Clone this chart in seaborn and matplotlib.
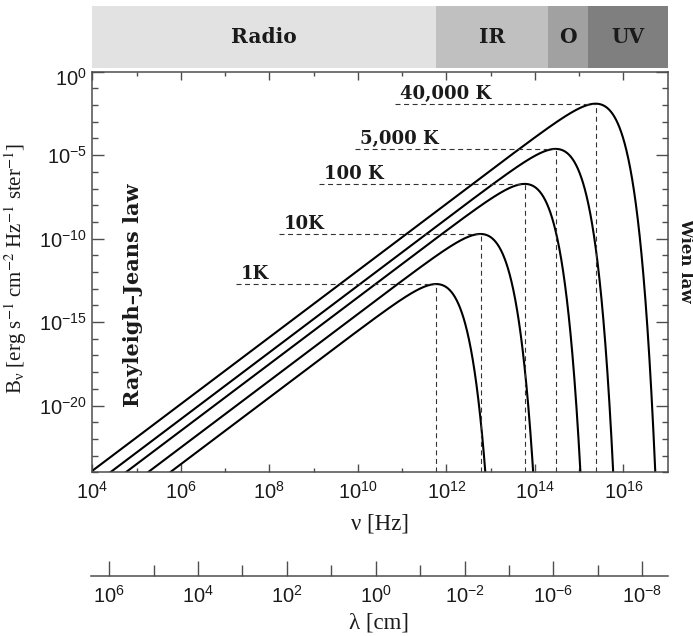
import numpy as np
import pandas as pd
import matplotlib
matplotlib.use("Agg")
import matplotlib.pyplot as plt
from matplotlib.ticker import FixedLocator, FixedFormatter, NullFormatter
from matplotlib.transforms import ScaledTranslation
import seaborn as sns

# ---- data ---------------------------------------------------------------
# blackbody temperatures of the five curves (K) and the labels printed on them
curve_temps_K = [10, 100, 1000, 5000, 40000]
curve_labels = ["1K", "10K", "100 K", "5,000 K", "40,000 K"]
# left end of the dashed guide running to each peak (log10 Hz)
guide_start_log_hz = [7.24, 8.22, 9.12, 9.94, 10.84]

# spectral bands along the top (edges in log10 Hz)
band_names = ["Radio", "IR", "O", "UV"]
band_edges_log_hz = [4.0, 11.77, 14.29, 15.20, 17.0]
band_colors = ["#e1e2e1", "#bfc0bf", "#a0a1a0", "#7f7f7f"]

# axis ticks
freq_tick_exp = [4, 6, 8, 10, 12, 14, 16]
freq_minor_exp = [5, 7, 9, 11, 13, 15]
flux_tick_exp = [0, -5, -10, -15, -20]
lam_tick_pos_exp = [6, 4, 2, 0, -2, -4, -6]
lam_tick_text_exp = [6, 4, 2, 0, -2, -6, -8]
lam_minor_exp = [5, 3, 1, -1, -3, -5]

# ---- Planck spectra (cgs) -------------------------------------------------
h, k, c = 6.626e-27, 1.381e-16, 2.998e10
nu = np.logspace(4, 17, 4000)
frames = []
for T, lab in zip(curve_temps_K, curve_labels):
    with np.errstate(over="ignore"):
        B = 2 * h * nu**3 / c**2 / np.expm1(h * nu / (k * T))
    keep = B > 1e-27
    frames.append(pd.DataFrame({"nu": nu[keep], "B": B[keep], "curve": lab}))
spectra = pd.concat(frames, ignore_index=True)

# ---- style -----------------------------------------------------------------
sns.set_theme(style="ticks")
plt.rcParams["font.family"] = ["Liberation Sans", "DejaVu Sans"]
plt.rcParams["mathtext.fontset"] = "custom"
plt.rcParams["mathtext.rm"] = "Liberation Sans"
plt.rcParams["mathtext.it"] = "Liberation Sans:italic"
plt.rcParams["mathtext.bf"] = "Liberation Sans:bold"
plt.rcParams["axes.edgecolor"] = "#4d4d4d"
plt.rcParams["axes.linewidth"] = 1.1
ink = "#1a1a1a"
bold_serif = dict(family="DejaVu Serif", weight="bold", color=ink)
plain_serif = dict(family="Liberation Serif", color=ink)
tick_size = 14.5

W, H = 693, 636
fig = plt.figure(figsize=(W / 100, H / 100), dpi=100)


def rect(x0, y0, x1, y1):
    return [x0 / W, 1 - y1 / H, (x1 - x0) / W, (y1 - y0) / H]


def pix(x, y):
    return x / W, 1 - y / H


# ---- main panel ------------------------------------------------------------
ax = fig.add_axes(rect(92.3, 71.7, 667.7, 472.3))
ax.set_xscale("log")
ax.set_yscale("log")
sns.lineplot(data=spectra, x="nu", y="B", hue="curve", palette=["black"] * 5,
             estimator=None, legend=False, linewidth=1.5, ax=ax)
ax.set_xlim(1e4, 1e17)
ax.set_ylim(1e-24, 1)
ax.set_xlabel("")
ax.set_ylabel("")

dash = dict(color="#333333", linewidth=0.8, linestyle=(0, (4.5, 3.2)))
for (lab, grp), x0 in zip(spectra.groupby("curve", sort=False), guide_start_log_hz):
    i = grp["B"].idxmax()
    nu_pk, B_pk = grp.loc[i, "nu"], grp.loc[i, "B"]
    ax.plot([10**x0, nu_pk], [B_pk, B_pk], **dash)
    ax.plot([nu_pk, nu_pk], [1e-24, B_pk], **dash)
    ax.annotate(lab, xy=(10**x0, B_pk), xytext=(3.5, 3.4),
                textcoords="offset points", ha="left", va="baseline",
                fontsize=13, **bold_serif)

ax.xaxis.set_major_locator(FixedLocator([10.0**e for e in freq_tick_exp]))
ax.xaxis.set_major_formatter(FixedFormatter(
    [r"$\mathdefault{10^{%d}}$" % e for e in freq_tick_exp]))
ax.xaxis.set_minor_locator(FixedLocator([10.0**e for e in freq_minor_exp]))
ax.xaxis.set_minor_formatter(NullFormatter())
ax.yaxis.set_major_locator(FixedLocator([10.0**e for e in flux_tick_exp]))
ax.yaxis.set_major_formatter(FixedFormatter(
    [r"$\mathdefault{10^{%d}}$" % e for e in flux_tick_exp]))
ax.yaxis.set_minor_locator(FixedLocator(
    [10.0**e for e in range(-24, 1) if e not in flux_tick_exp]))
ax.yaxis.set_minor_formatter(NullFormatter())
ax.tick_params(which="both", direction="in", top=True, right=True,
               color="#4d4d4d", width=1.0, labelsize=tick_size, labelcolor=ink)
ax.tick_params(axis="x", which="major", length=5.5, pad=6.5)
ax.tick_params(axis="x", which="minor", length=3)
ax.tick_params(axis="y", which="major", length=8.3, pad=4)
ax.tick_params(axis="y", which="minor", length=4.3)

# the top flux label sits a little below its tick, clear of the band strip
fig.canvas.draw()
top_lbl = ax.yaxis.get_major_ticks()[0].label1
top_lbl.set_transform(top_lbl.get_transform()
                      + ScaledTranslation(0, -5 / 100, fig.dpi_scale_trans))

fig.text(*pix(133, 295), "Rayleigh\u2013Jeans law", rotation=90, ha="center",
         va="center", fontsize=15, **bold_serif)

# ---- spectral band strip ---------------------------------------------------
bax = fig.add_axes(rect(91.5, 6, 667.7, 67.7))
bax.set_xscale("log")
bax.set_xlim(10**band_edges_log_hz[0], 10**band_edges_log_hz[-1])
bax.set_ylim(0, 1)
for name, lo, hi, col in zip(band_names, band_edges_log_hz[:-1],
                             band_edges_log_hz[1:], band_colors):
    bax.axvspan(10**lo, 10**hi, color=col, lw=0)
    bax.text(10**((lo + hi) / 2), 0.5, name, ha="center", va="center",
             fontsize=14.5, **bold_serif)
bax.set_axis_off()

# ---- wavelength scale ------------------------------------------------------
lax = fig.add_axes(rect(90.7, 560, 667.7, 575.7))
lax.set_xscale("log")
lax.set_xlim(10**6.415, 10**-6.57)
lax.set_ylim(0, 1)
for s in ("top", "left", "right"):
    lax.spines[s].set_visible(False)
lax.set_yticks([])
lax.patch.set_alpha(0)
lax.xaxis.set_major_locator(FixedLocator([10.0**e for e in lam_tick_pos_exp]))
lax.xaxis.set_major_formatter(FixedFormatter(
    [r"$\mathdefault{10^{%d}}$" % e for e in lam_tick_text_exp]))
lax.xaxis.set_minor_locator(FixedLocator([10.0**e for e in lam_minor_exp]))
lax.xaxis.set_minor_formatter(NullFormatter())
lax.tick_params(axis="x", which="both", direction="in", color="#4d4d4d",
                width=1.0, labelsize=tick_size, labelcolor=ink, pad=6.5)
lax.tick_params(axis="x", which="major", length=10.6)
lax.tick_params(axis="x", which="minor", length=7.7)

# ---- axis titles -----------------------------------------------------------
fig.text(*pix(16, 268),
         r"B$_{\mathregular{ν}}$ [erg s$^{-1}$ cm$^{-2}$ Hz$^{-1}$ ster$^{-1}$]",
         rotation=90, ha="center", va="center", fontsize=15,
         math_fontfamily="stix", **plain_serif)
fig.text(*pix(380, 524), "\u03bd [Hz]", ha="center", va="center",
         fontsize=16.5, **plain_serif)
fig.text(*pix(379, 623), "\u03bb [cm]", ha="center", va="center",
         fontsize=16.5, **plain_serif)
fig.text(*pix(686, 260), "Wien law", rotation=-90, ha="center",
         va="center", fontsize=12, **bold_serif)

fig.savefig("out.png", dpi=100)
